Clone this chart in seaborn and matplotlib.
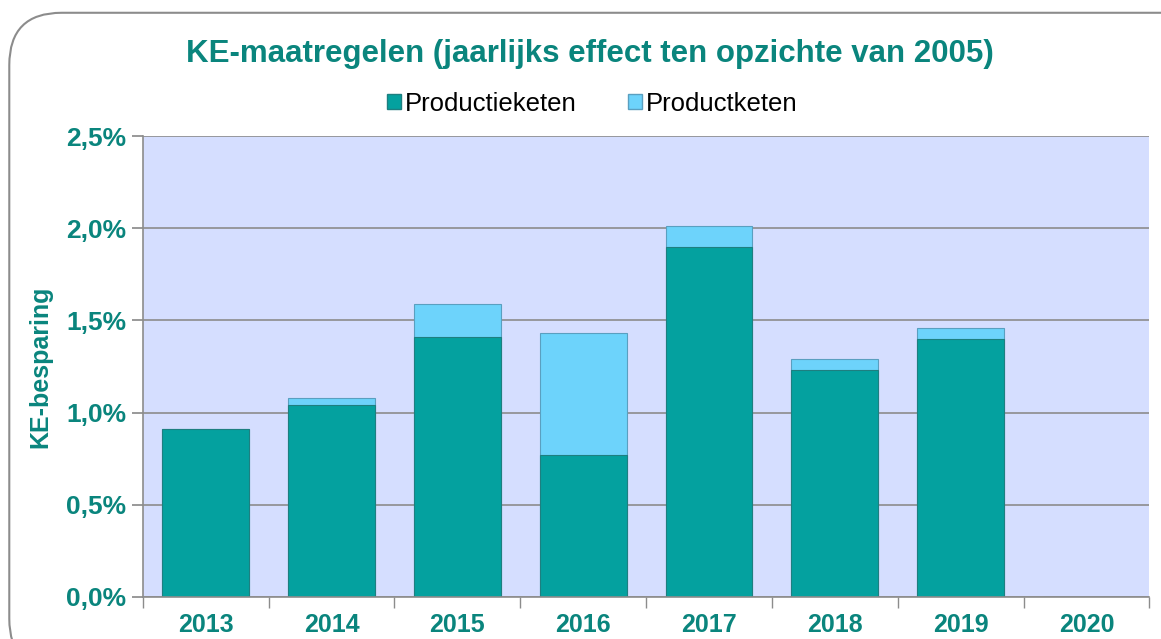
import pandas as pd
import numpy as np
import matplotlib.pyplot as plt
import seaborn as sns
from matplotlib.patches import FancyBboxPatch, Patch

sns.set_theme(style="white")
plt.rcParams['font.family'] = ['Liberation Sans', 'DejaVu Sans']

years = ["2013", "2014", "2015", "2016", "2017", "2018", "2019", "2020"]
productieketen = [0.91, 1.04, 1.41, 0.77, 1.90, 1.23, 1.40, 0.0]
productketen = [0.0, 0.04, 0.18, 0.66, 0.11, 0.06, 0.06, 0.0]

teal = "#04A19F"
lightblue = "#6DD3FB"
textcol = "#0A857D"

df = pd.DataFrame({"jaar": years, "Productieketen": productieketen, "Productketen": productketen})
df["totaal"] = df["Productieketen"] + df["Productketen"]

fig = plt.figure(figsize=(11.61, 6.39), dpi=100)
frame = FancyBboxPatch((0.008, -0.05), 1.05, 1.03, boxstyle="round,pad=0,rounding_size=0.045",
                       transform=fig.transFigure, facecolor="white", edgecolor="#8C8C8C",
                       linewidth=1.5, mutation_aspect=1161 / 639, zorder=-10)
fig.patches.append(frame)

ax = fig.add_axes([0.123, 0.066, 0.867, 0.721])
ax.set_facecolor("#D5DEFF")

sns.barplot(data=df, x="jaar", y="totaal", color=lightblue, width=0.69, saturation=1,
            edgecolor="#5A9FC0", linewidth=0.8, ax=ax)
sns.barplot(data=df, x="jaar", y="Productieketen", color=teal, width=0.69, saturation=1,
            edgecolor="#1E7F80", linewidth=0.8, ax=ax)

ax.set_ylim(0, 2.5)
ax.set_xlim(-0.5, 7.5)
ax.set_yticks(np.arange(0, 2.51, 0.5))
ax.set_yticklabels([f"{v:.1f}%".replace(".", ",") for v in np.arange(0, 2.51, 0.5)])
ax.yaxis.grid(True, color="#8C8C8C", linewidth=1.2)
ax.set_axisbelow(True)
for s in ["top", "right"]:
    ax.spines[s].set_visible(False)
for s in ["left", "bottom"]:
    ax.spines[s].set_color("#8C8C8C")
    ax.spines[s].set_linewidth(1.2)

ax.tick_params(axis="y", length=8, color="#8C8C8C", left=True, pad=4)
ax.set_xticks(np.arange(-0.5, 8, 1), minor=True)
ax.tick_params(axis="x", which="minor", length=8, color="#8C8C8C", bottom=True)
ax.tick_params(axis="x", which="major", length=0, pad=12)
for lab in ax.get_yticklabels():
    lab.set_color(textcol)
    lab.set_fontsize(19)
    lab.set_fontweight("bold")
for lab in ax.get_xticklabels():
    lab.set_color(textcol)
    lab.set_fontsize(18)
    lab.set_fontweight("bold")

ax.set_xlabel("")
ax.set_ylabel("KE-besparing", fontsize=18, fontweight="bold", color=textcol, labelpad=10)

fig.text(0.508, 0.915, "KE-maatregelen (jaarlijks effect ten opzichte van 2005)", ha="center",
         va="center", fontsize=22.5, fontweight="bold", color=textcol)

handles = [Patch(facecolor=teal, edgecolor="#1E7F80"), Patch(facecolor=lightblue, edgecolor="#5A9FC0")]
fig.legend(handles, ["Productieketen", "Productketen"], loc="center", bbox_to_anchor=(0.51, 0.838),
           ncol=2, frameon=False, fontsize=18.5, handlelength=0.55, handleheight=0.55,
           handletextpad=0.15, columnspacing=2.0, labelcolor="black")

fig.savefig("out.png", dpi=100)
